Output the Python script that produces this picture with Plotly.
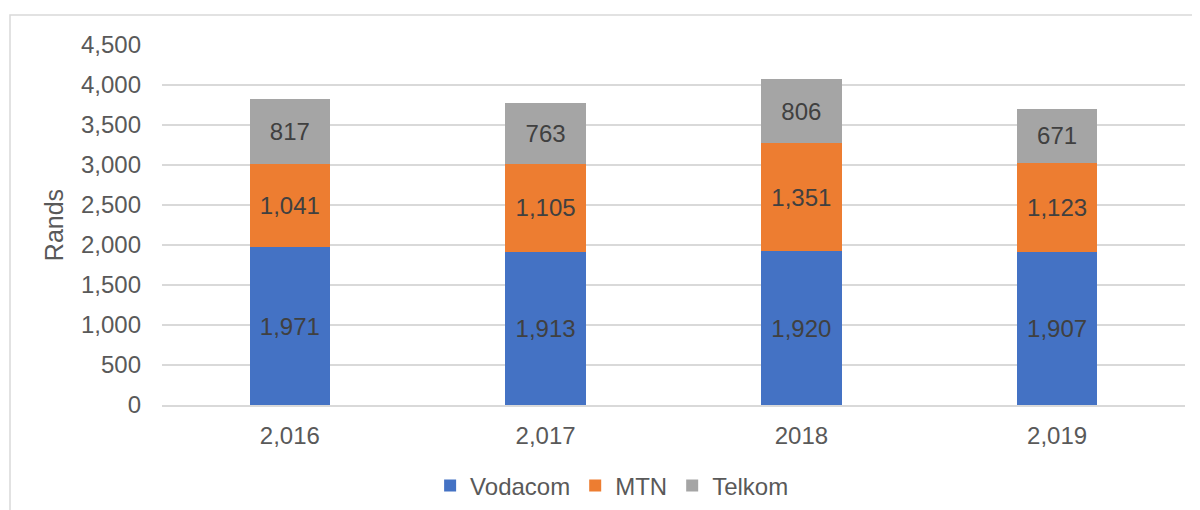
import plotly.graph_objects as go

years = ["2,016", "2,017", "2018", "2,019"]
vodacom = [1971, 1913, 1920, 1907]
mtn = [1041, 1105, 1351, 1123]
telkom = [817, 763, 806, 671]

series = [("Vodacom", vodacom, "#4472C4"), ("MTN", mtn, "#ED7D31"), ("Telkom", telkom, "#A5A5A5")]

FONT = "Liberation Sans, Arial, sans-serif"
fig = go.Figure()
for name, vals, col in series:
    fig.add_trace(go.Bar(
        name=name, x=years, y=vals, marker=dict(color=col, line=dict(width=0)),
        text=[f"{v:,}" for v in vals], textposition="inside", insidetextanchor="middle",
        textfont=dict(family=FONT, size=24, color="#404040"), textangle=0,
        cliponaxis=False,
    ))

# page body has an 8px default margin; size the figure to fit the 1200x510 window
fig.update_layout(
    barmode="stack", bargap=0.686,
    width=1192, height=502,
    margin=dict(l=154, r=15, t=37, b=105, autoexpand=False),
    plot_bgcolor="white", paper_bgcolor="white",
    font=dict(family=FONT, size=24, color="#595959"),
    uniformtext=dict(mode=False),
    legend=dict(orientation="h", x=0.440, xanchor="center", y=-0.225, yanchor="middle",
                font=dict(size=24, color="#595959"), traceorder="normal", itemwidth=30),
    showlegend=True,
)
fig.update_yaxes(range=[0, 4500], dtick=500, tickformat=",d", showgrid=True, gridcolor="#d9d9d9",
                 gridwidth=1.5, zeroline=False, showline=False, ticklabelstandoff=20, automargin=False,
                 title=dict(text="Rands", font=dict(size=25, color="#595959"), standoff=10),
                 tickfont=dict(size=24, color="#595959"))
fig.update_xaxes(type="category", showline=True, linecolor="#d9d9d9", linewidth=1.5, automargin=False,
                 ticklabelstandoff=8, tickfont=dict(size=24, color="#595959"))
fig.add_shape(type="rect", xref="paper", yref="paper", x0=(2-154)/1023, x1=1.05,
              y0=-0.4, y1=1+30/360, line=dict(color="#d9d9d9", width=1.5), fillcolor="rgba(0,0,0,0)",
              layer="below")
fig.write_html("out.html")
